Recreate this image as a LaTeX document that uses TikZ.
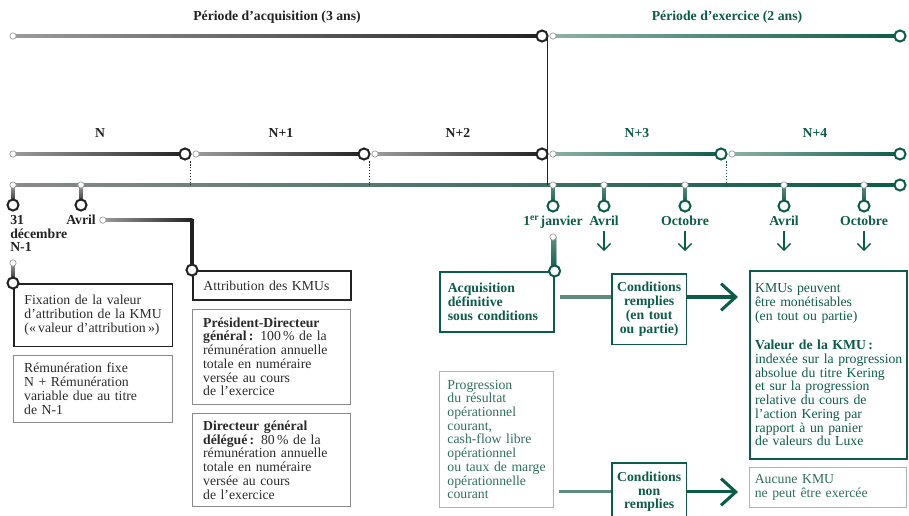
\documentclass[tikz,border=0pt]{standalone}
\usepackage{fontspec}
\setmainfont{Liberation Serif}
\usetikzlibrary{positioning,calc,arrows.meta,backgrounds}

\definecolor{kgreen}{HTML}{0D5B49}
\definecolor{kmid}{HTML}{5E8D80}
\definecolor{kpale}{HTML}{8DB1A6}
\definecolor{klight}{HTML}{9CBDB3}
\definecolor{kdark}{HTML}{222222}
\definecolor{kgray}{HTML}{9B9B9B}
\definecolor{kline}{HTML}{8A8A8A}
\definecolor{ktext}{HTML}{2A2A2A}
\definecolor{kgtext}{HTML}{2F6F5F}

\newcommand{\kfont}{\fontsize{10.3}{10.3}\selectfont}
% shaded bars between two nodes
\newcommand{\hseg}[4]{\shade[left color=#3,right color=#4] ($(#1.center)+(0,-1.8)$) rectangle ($(#2.center)+(0,1.8)$);}
\newcommand{\vseg}[4]{\shade[top color=#3,bottom color=#4] ($(#1.center)+(-1.5,0)$) rectangle ($(#2.center)+(1.5,0)$);}

\tikzset{
  smalldot/.style={circle,draw=kgray,fill=white,line width=0.5pt,inner sep=0pt,minimum size=4.8pt},
  bigring/.style={circle,draw=#1,fill=white,line width=1.5pt,inner sep=0pt,minimum size=8.3pt},
  bigring/.default=kdark,
  yearlab/.style={font={\kfont\bfseries},text=kdark,inner sep=0pt},
  kbox/.style={draw=#1,line width=1.2pt,anchor=north west,align=left,inner xsep=8pt,inner ysep=0pt},
  thinbox/.style={kbox=#1,line width=0.7pt},
  condbox/.style={kbox=kgreen,align=center,inner xsep=3pt,text=kgreen,font={\kfont\bfseries},
    minimum width=56pt,text width=50pt},
  bigarrow/.style={kgreen,line width=2.3pt,-{Straight Barb[length=11pt,width=20pt]}},
  datearrow/.style={kgreen,line width=1.1pt,-{Straight Barb[length=5pt,width=10pt]}},
  yearsep/.style={line width=0.6pt,dash pattern=on 1.2pt off 1pt}
}

\begin{document}
\begin{tikzpicture}[x=0.75pt,y=-0.75pt,font=\kfont,text=ktext]
\useasboundingbox (0,0) rectangle (909,515);

% periods
\node[yearlab] (acq) at (277,17) {Période d'acquisition (3 ans)};
\node[yearlab,text=kgreen] (exo) at (727,17) {Période d'exercice (2 ans)};
\node[smalldot] (p0) at (13,36) {};
\node[bigring] (p1) at (542,36) {};
\node[smalldot] (p2) at (553,36) {};
\node[bigring=kgreen] (p3) at (900,36) {};

% years
\node[yearlab] (n0) at (100,133) {N};
\node[yearlab] (n1) at (281,133) {N+1};
\node[yearlab] (n2) at (458,133) {N+2};
\node[yearlab,text=kgreen] (n3) at (637,133) {N+3};
\node[yearlab,text=kgreen] (n4) at (815,133) {N+4};
\node[smalldot] (y0) at (13,154) {};
\node[bigring] (y1) at (185,154) {};
\node[smalldot] (y1s) at (196,154) {};
\node[bigring] (y2) at (364,154) {};
\node[smalldot] (y2s) at (375,154) {};
\node[bigring] (y3) at (542,154) {};
\node[smalldot] (y3s) at (553,154) {};
\node[bigring=kgreen] (y4) at (721,154) {};
\node[smalldot] (y4s) at (732,154) {};
\node[bigring=kgreen] (y5) at (900,154) {};
\coordinate (d1) at ($(y1)!0.5!(y1s)+(0,7)$);
\coordinate (d2) at ($(y2)!0.5!(y2s)+(0,7)$);
\coordinate (d3) at ($(p1)!0.5!(p2)$);
\coordinate (d4) at ($(y4)!0.5!(y4s)+(0,7)$);

% dates
\node[smalldot] (t0) at (13,185) {};
\node[smalldot] (t1) at (81,185) {};
\foreach \n/\x in {2/553,3/604,4/685,5/784,6/864}
    \node[smalldot] (t\n) at (\x,185) {};
\node[bigring=kgreen] (t7) at (900,185) {};
\node[bigring] (r0) at (13,205) {};
\node[bigring] (r1) at (81,205) {};
\foreach \n in {2,...,6}
    \node[bigring=kgreen] (r\n) at ($(t\n)+(0,21)$) {};
\node[yearlab,anchor=north west,align=left] (l0) at (10,215) {31\\décembre\\N-1};
\node[yearlab,anchor=north] (l1) at (81,215) {Avril};
\node[smalldot,right=2.5pt of l1] (av) {};
\node[yearlab,text=kgreen,anchor=north] (l2) at ($(r2)+(0,10)$) {1\textsuperscript{er}\kern1pt janvier};
\foreach \n/\txt in {3/Avril,4/Octobre,5/Avril,6/Octobre}{
    \node[yearlab,text=kgreen,anchor=north] (l\n) at ($(r\n)+(0,10)$) {\txt};
    \draw[datearrow] ($(l\n.south)+(0,5)$) -- ++(0,20);
}
\node[smalldot] (j0) at ($(r2)+(0,31)$) {};

% left boxes
\node[kbox=kdark,minimum width=119pt,minimum height=47pt,text width=103pt] (fix) at (13,283)
    {Fixation de la valeur\\d'attribution de la KMU\\(«\,valeur d'attribution\,»)};
\node[bigring] (rf) at (fix.north west) {};
\node[smalldot] (df) at ($(rf)+(0,-20)$) {};
\node[thinbox=kline,minimum width=119pt,minimum height=50pt,text width=103pt] (rem) at (13,355)
    {Rémunération fixe\\N + Rémunération\\variable due au titre\\de N-1};
\node[kbox=kdark,minimum width=118.5pt,minimum height=22pt,text width=102.5pt] (att) at (192,270)
    {Attribution des KMUs};
\node[bigring] (ra) at (att.north west) {};
\coordinate (avc) at (ra |- av);
\node[thinbox=kline,minimum width=118.5pt,minimum height=71pt,text width=102.5pt] (pdg) at (192,309)
    {\textbf{Président-Directeur}\\\textbf{général\,:} 100\,\% de la\\rémunération annuelle\\totale en numéraire\\versée au cours\\de l'exercice};
\node[thinbox=kline,minimum width=118.5pt,minimum height=70pt,text width=102.5pt] (dgd) at (192,413)
    {\textbf{Directeur général}\\\textbf{délégué\,:} 80\,\% de la\\rémunération annuelle\\totale en numéraire\\versée au cours\\de l'exercice};

% green boxes
\node[kbox=kgreen,text=kgreen,font={\kfont\bfseries},inner xsep=6pt,minimum width=85.5pt,minimum height=45pt,text width=73.5pt] (acqd) at (439,271)
    {Acquisition\\définitive\\sous conditions};
\node[bigring=kgreen] (ga) at (acqd.north east) {};
\node[thinbox=klight,text=kgtext,inner xsep=6pt,minimum width=85.5pt,minimum height=102pt,text width=73.5pt] (prog) at (439,371)
    {Progression\\du résultat\\opérationnel\\courant,\\cash-flow libre\\opérationnel\\\mbox{ou taux de marge}\\opérationnelle\\courant};
\node[condbox,minimum height=53pt] (condr) at (611,273) {Conditions\\remplies\\(en tout\\ou partie)};
\node[condbox,minimum height=43.5pt] (condn) at (611,462) {Conditions\\non\\remplies};
\node[kbox=kgreen,text=kgreen,inner xsep=4pt,minimum width=118pt,minimum height=141pt,text width=110pt] (kmu) at (749,270)
    {KMUs peuvent\\être monétisables\\(en tout ou partie)\\[12pt]\textbf{Valeur de la KMU\,:}\\\mbox{indexée sur la progression}\\absolue du titre Kering\\et sur la progression\\relative du cours de\\l'action Kering par\\rapport à un panier\\de valeurs du Luxe};
\node[thinbox=klight,text=kgtext,inner xsep=4pt,minimum width=118pt,minimum height=30pt,text width=110pt] (none) at (749,467)
    {Aucune KMU\\ne peut être exercée};
\coordinate (c1) at ($(acqd.north east)+(5,26)$);
\coordinate (c2) at ($(prog.south east)+(5,-16)$);
\draw[kmid,line width=2.3pt] (c1) -- (c1 -| condr.west);
\draw[kmid,line width=2.3pt] (c2) -- (c2 -| condn.west);
\draw[bigarrow] (c1 -| condr.east) -- ($(c1 -| kmu.west)+(-11,0)$);
\draw[bigarrow] (c2 -| condn.east) -- ($(c2 -| none.west)+(-11,0)$);

\begin{scope}[on background layer]
    \hseg{p0}{p1}{kgray}{kdark}
    \hseg{p2}{p3}{kpale}{kgreen}
    \hseg{y0}{y1}{kgray}{kdark}
    \hseg{y1s}{y2}{kgray}{kdark}
    \hseg{y2s}{y3}{kgray}{kdark}
    \hseg{y3s}{y4}{kpale}{kgreen}
    \hseg{y4s}{y5}{kpale}{kgreen}
    \hseg{t0}{t7}{kline}{kgreen}
    \vseg{t0}{r0}{kgray}{kdark}
    \vseg{t1}{r1}{kgray}{kdark}
    \foreach \n in {2,...,6}
        \vseg{t\n}{r\n}{kmid}{kgreen}
    \vseg{df}{rf}{kgray}{kdark}
    \vseg{j0}{ga}{kmid}{kgreen}
    \hseg{av}{avc}{kgray}{kdark}
    \draw[kdark,line width=2.3pt,line cap=rect] (avc) -- (ra.center);
    \draw[kdark,line width=1.4pt] (d3) -- (d3 |- t0);
    \draw[yearsep,kdark] (d1) -- (d1 |- t0);
    \draw[yearsep,kdark] (d2) -- (d2 |- t0);
    \draw[yearsep,kgreen] (d4) -- (d4 |- t0);
\end{scope}
\end{tikzpicture}
\end{document}
